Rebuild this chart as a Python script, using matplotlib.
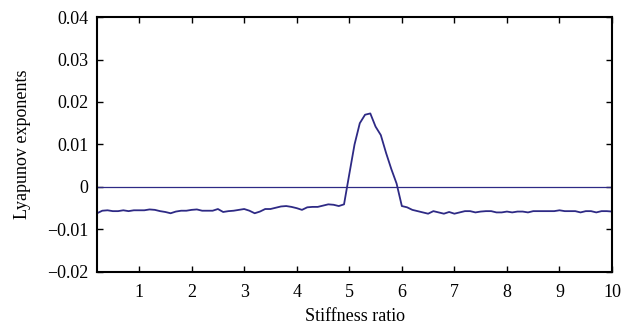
import numpy as np
import matplotlib
matplotlib.use("Agg")
from matplotlib import pyplot as plt

plt.rcParams['font.family'] = ['Liberation Serif', 'DejaVu Serif']
plt.rcParams['axes.unicode_minus'] = True

# stiffness ratio grid (step 0.1)
ratio = np.round(np.arange(0.2, 10.01, 0.1), 1)
lyap = [
    -0.0062, -0.0056, -0.0055, -0.0057, -0.0057, -0.0055, -0.0057, -0.0055,  # 0.2-0.9
    -0.0055, -0.0055, -0.0053, -0.0054, -0.0057, -0.0059, -0.0062, -0.0058, -0.0056, -0.0056,  # 1.0-1.9
    -0.0054, -0.0053, -0.0056, -0.0056, -0.0056, -0.0052, -0.0059, -0.0057, -0.0056, -0.0054,  # 2.0-2.9
    -0.0052, -0.0056, -0.0062, -0.0058, -0.0052, -0.0052, -0.0049, -0.0046, -0.0045, -0.0047,  # 3.0-3.9
    -0.0050, -0.0054, -0.0048, -0.0047, -0.0047, -0.0044, -0.0041, -0.0042, -0.0045, -0.0041,  # 4.0-4.9
    0.0030, 0.0100, 0.0150, 0.0170, 0.0173, 0.0142, 0.0122, 0.0080, 0.0042, 0.0008,  # 5.0-5.9
    -0.0045, -0.0048, -0.0054, -0.0057, -0.0060, -0.0063, -0.0057, -0.0060, -0.0063, -0.0059,  # 6.0-6.9
    -0.0063, -0.0060, -0.0057, -0.0057, -0.0060, -0.0058, -0.0057, -0.0057, -0.0060, -0.0060,  # 7.0-7.9
    -0.0058, -0.0060, -0.0058, -0.0058, -0.0060, -0.0057, -0.0057, -0.0057, -0.0057, -0.0057,  # 8.0-8.9
    -0.0055, -0.0057, -0.0057, -0.0057, -0.0060, -0.0057, -0.0057, -0.0060, -0.0057, -0.0057,  # 9.0-9.9
    -0.0058,  # 10.0
]
xticks = [1, 2, 3, 4, 5, 6, 7, 8, 9, 10]
yticks = [-0.02, -0.01, 0, 0.01, 0.02, 0.03, 0.04]
ylabels = ['\u22120.02', '\u22120.01', '0', '0.01', '0.02', '0.03', '0.04']

color = '#2e2a85'

fig = plt.figure(figsize=(6.22, 3.34), dpi=100)
ax = fig.add_axes([0.156, 0.186, 0.828, 0.763])
ax.axhline(0, color=color, lw=0.9)
ax.plot(ratio, lyap, color=color, lw=1.3)

ax.set_xlim(0.2, 10)
ax.set_ylim(-0.02, 0.04)
ax.set_xticks(xticks)
ax.set_xticklabels([str(t) for t in xticks])
ax.set_yticks(yticks)
ax.set_yticklabels(ylabels)
ax.tick_params(direction='in', top=True, right=True, labelsize=13, length=4, width=1)
ax.tick_params(axis='x', pad=9)
ax.tick_params(axis='y', pad=6)
for s in ax.spines.values():
    s.set_linewidth(1.5)
ax.set_xlabel('Stiffness ratio', fontsize=13, labelpad=5)
ax.set_ylabel('Lyapunov exponents', fontsize=13, labelpad=12)

fig.savefig('out.png', dpi=100)
